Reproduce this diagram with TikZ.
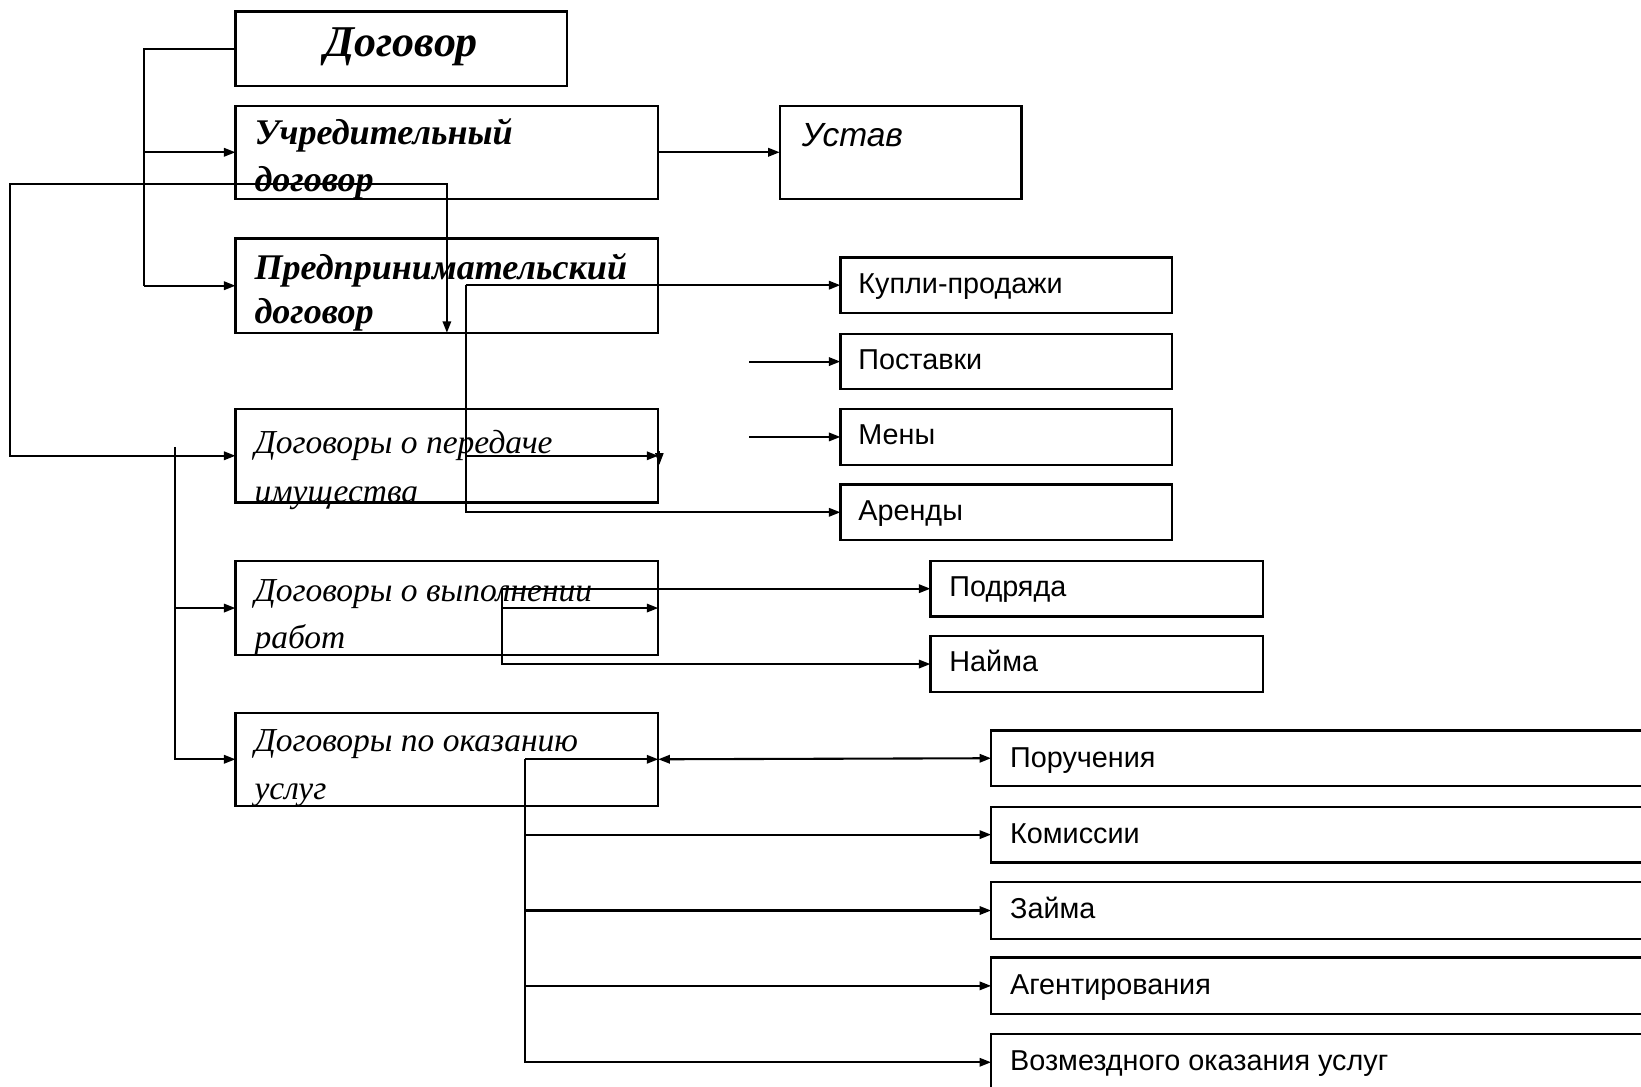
\documentclass[tikz,border=0pt]{standalone}
\usepackage{fontspec}
\setmainfont{Liberation Serif}
\setsansfont{Liberation Sans}
\usetikzlibrary{arrows.meta}
\begin{document}
\begin{tikzpicture}[x=1pt,y=-1pt,
  box/.style={draw, line width=2.2pt, inner sep=0pt, outer sep=0pt, anchor=north west},
  con/.style={line width=2pt},
  arr/.style={con, -{Triangle[length=11pt,width=8pt]}},
  darr/.style={con, {Triangle[length=11pt,width=8pt]}-{Triangle[length=11pt,width=8pt]}},
  big/.style={font=\fontsize{42}{48}\selectfont\bfseries\itshape, inner sep=0pt, anchor=base},
  bi/.style={font=\fontsize{34.5}{40}\selectfont\bfseries\itshape, inner sep=0pt, anchor=base west},
  li/.style={font=\fontsize{32}{36}\selectfont\itshape, inner sep=0pt, anchor=base west},
  sf/.style={font=\fontsize{27.5}{32}\selectfont\sffamily, inner sep=0pt, anchor=base west},
  sfi/.style={font=\fontsize{32}{38}\selectfont\sffamily\itshape, inner sep=0pt, anchor=base west},
]
\useasboundingbox (0,0) rectangle (1568,1038);
\clip (0,0) rectangle (1568,1038);

% boxes
\node[box, minimum width=317pt, minimum height=71pt] (dog) at (225,11) {};
\node[box, minimum width=404pt, minimum height=89pt] (ucr) at (225,101) {};
\node[box, minimum width=231pt, minimum height=89pt] (ust) at (745,101) {};
\node[box, minimum width=404pt, minimum height=90pt] (pred) at (225,228) {};
\node[box, minimum width=404pt, minimum height=89pt] (per) at (225,391) {};
\node[box, minimum width=404pt, minimum height=90pt] (vyp) at (225,536) {};
\node[box, minimum width=404pt, minimum height=89pt] (oka) at (225,681) {};
\node[box, minimum width=317pt, minimum height=53pt] (kup) at (803,246) {};
\node[box, minimum width=317pt, minimum height=53pt] (post) at (803,319) {};
\node[box, minimum width=317pt, minimum height=53pt] (men) at (803,391) {};
\node[box, minimum width=317pt, minimum height=53pt] (ar) at (803,463) {};
\node[box, minimum width=318pt, minimum height=53pt] (podr) at (889,536) {};
\node[box, minimum width=318pt, minimum height=53pt] (nai) at (889,608) {};
\node[box, minimum width=760pt, minimum height=53pt] (por) at (947,698) {};
\node[box, minimum width=760pt, minimum height=53pt] (kom) at (947,771) {};
\node[box, minimum width=760pt, minimum height=54pt] (zai) at (947,843) {};
\node[box, minimum width=760pt, minimum height=54pt] (ag) at (947,915) {};
\node[box, minimum width=760pt, minimum height=54pt] (voz) at (947,988) {};

% texts
\node[big] (tdog) at (383.5,54) {Договор};
\node[bi] (tucr1) at (243,138.5) {Учредительный};
\node[bi] (tucr2) at (243,183) {договор};
\node[sfi] (tust) at (766,140) {Устав};
\node[bi] (tpred1) at (243,267.5) {Предпринимательский};
\node[bi] (tpred2) at (243,309) {договор};
\node[li] (tper1) at (243,433) {Договоры о передаче};
\node[li] (tper2) at (243,480) {имущества};
\node[li] (tvyp1) at (243,575) {Договоры о выполнении};
\node[li] (tvyp2) at (243,620) {работ};
\node[li] (toka1) at (243,718) {Договоры по оказанию};
\node[li] (toka2) at (243,764) {услуг};
\node[sf] (tkup) at (820,280) {Купли-продажи};
\node[sf] (tpost) at (820,353) {Поставки};
\node[sf] (tmen) at (820,425) {Мены};
\node[sf] (tar) at (820,497) {Аренды};
\node[sf] (tpodr) at (907,570) {Подряда};
\node[sf] (tnai) at (907,642) {Найма};
\node[sf] (tpor) at (965,733) {Поручения};
\node[sf] (tkom) at (965,806) {Комиссии};
\node[sf] (tzai) at (965,878) {Займа};
\node[sf] (tag) at (965,950) {Агентирования};
\node[sf] (tvoz) at (965,1023) {Возмездного оказания услуг};

% junction coordinates
\coordinate (j1) at (138,145.5);
\coordinate (j2) at (138,273);
\coordinate (l1) at (427,176);
\coordinate (l2) at (9.5,176);
\coordinate (v1) at (167,427);
\coordinate (v2) at (167,581);
\coordinate (p1) at (445,272.5);
\coordinate (p2) at (445,435.5);
\coordinate (s1) at (716,345.5);
\coordinate (s2) at (716,417.5);
\coordinate (w1) at (480,562.5);
\coordinate (w2) at (480,581);
\coordinate (u1) at (502,725.5);
\coordinate (d1) at (630,431);
\coordinate (d2) at (630,444);

% connectors
\draw[con] (dog.west) -| (j2);
\draw[arr] (j1) -- (ucr.west);
\draw[arr] (j2) -- (pred.west);
\draw[arr] (ucr.east) -- (ust.west);
\draw[darr] (per.west) -| (l2) -- (l1) -- (pred.south);
\draw[arr] (v1) |- (oka.west);
\draw[arr] (v2) -- (vyp.west);
\draw[arr] (p1) -- (kup.west);
\draw[arr] (p1) |- (ar.west);
\draw[arr] (p2) -- (per.east);
\draw[line width=1pt, -{Triangle[length=11pt,width=8pt]}] (d1) -- (d2);
\draw[arr] (s1) -- (post.west);
\draw[arr] (s2) -- (men.west);
\draw[arr] (w1) -- (podr.west);
\draw[arr] (w1) |- (nai.west);
\draw[arr] (w2) -- (vyp.east);
\draw[arr] (u1) -- (oka.east);
\draw[darr] (oka.east) -- (por.west);
\draw[arr] (u1) |- (kom.west);
\draw[arr] (u1) |- (zai.west);
\draw[arr] (u1) |- (ag.west);
\draw[arr] (u1) |- (voz.west);
\end{tikzpicture}
\end{document}
